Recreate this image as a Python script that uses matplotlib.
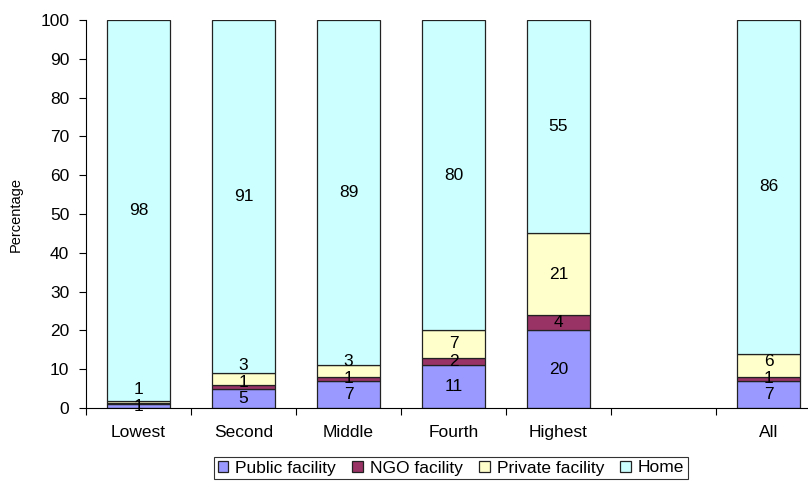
import matplotlib
matplotlib.use("Agg")
import matplotlib.pyplot as plt
import numpy as np

plt.rcParams['font.family'] = ['Liberation Sans', 'DejaVu Sans']

categories = ["Lowest", "Second", "Middle", "Fourth", "Highest", "", "All"]
public = [1, 5, 7, 11, 20, np.nan, 7]
ngo = [0.3, 1, 1, 2, 4, np.nan, 1]
private = [0.6, 3, 3, 7, 21, np.nan, 6]
home = [98, 91, 89, 80, 55, np.nan, 86]

public_lbl = ["1", "5", "7", "11", "20", "", "7"]
ngo_lbl = ["", "1", "1", "2", "4", "", "1"]
private_lbl = ["1", "3", "3", "7", "21", "", "6"]
home_lbl = ["98", "91", "89", "80", "55", "", "86"]

series = [
    ("Public facility", public, public_lbl, "#9999FF"),
    ("NGO facility", ngo, ngo_lbl, "#993366"),
    ("Private facility", private, private_lbl, "#FFFFCC"),
    ("Home", home, home_lbl, "#CCFFFF"),
]

FS = 12.5
W, H = 808, 492
fig = plt.figure(figsize=(W / 100, H / 100), dpi=100)
left, right, top, bottom = 86, 821, 20, 408
ax = fig.add_axes([left / W, 1 - bottom / H, (right - left) / W, (bottom - top) / H])

x = np.arange(len(categories))
base = np.zeros(len(categories))
label_pos = [[] for _ in categories]
handles = []
for name, vals, lbls, color in series:
    v = np.array(vals, dtype=float)
    ok = ~np.isnan(v)
    h = ax.bar(x[ok], v[ok], width=0.6, bottom=base[ok], color=color,
               edgecolor="#222222", linewidth=0.9, label=name)
    handles.append(h)
    for i in range(len(categories)):
        if np.isnan(v[i]) or lbls[i] == "":
            continue
        yc = base[i] + v[i] / 2
        if label_pos[i] and yc - label_pos[i][-1] < 4.2:
            yc = label_pos[i][-1] + 4.2
        label_pos[i].append(yc)
        ax.text(x[i], yc, lbls[i], ha="center", va="center", fontsize=FS, color="black")
    base = base + np.nan_to_num(v)

ax.set_xlim(-0.5, len(categories) - 0.5)
ax.set_ylim(0, 100)
ax.set_yticks(np.arange(0, 101, 10))
ax.tick_params(axis="y", labelsize=FS, length=5, width=0.8, direction="out", pad=7)
ax.set_xticks(x)
ax.set_xticklabels(categories, fontsize=FS)
ax.tick_params(axis="x", length=0, pad=12)
ax.set_xticks(np.arange(-0.5, len(categories), 1), minor=True)
ax.tick_params(axis="x", which="minor", length=5, width=0.8, direction="out")
for s in ["top", "right"]:
    ax.spines[s].set_visible(False)
ax.spines["left"].set_linewidth(0.8)
ax.spines["bottom"].set_linewidth(0.8)
ax.set_ylabel("Percentage", fontsize=10.5)
ax.yaxis.set_label_coords(-(86 - 23) / (right - left), 0.5)

leg = fig.legend(handles=handles, loc="center", bbox_to_anchor=(451 / W, 1 - 468 / H),
                 ncol=4, fontsize=FS, frameon=True, fancybox=False, edgecolor="black",
                 handlelength=0.6, handleheight=0.6, handletextpad=0.4, columnspacing=0.95,
                 borderpad=0.2, borderaxespad=0)
leg.get_frame().set_linewidth(0.8)

fig.savefig("out.png", dpi=100)
